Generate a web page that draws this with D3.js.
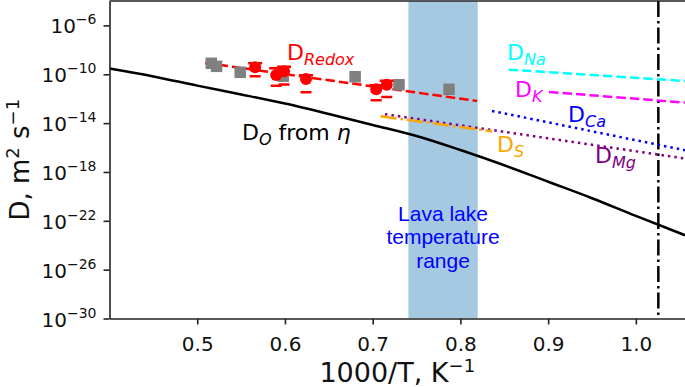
<!DOCTYPE html>
<html>
<head>
<meta charset="utf-8">
<script src="https://cdn.jsdelivr.net/npm/d3@7"></script>
<style>
  body { margin: 0; background: #fff; }
  svg { display: block; font-family: "DejaVu Sans", sans-serif; }
</style>
</head>
<body>
<div id="chart"></div>
<script>

// data (D values stored as log10 exponents)

const xTicks = [0.5, 0.6, 0.7, 0.8, 0.9, 1.0];
const yTickExps = [-6, -10, -14, -18, -22, -26, -30];

// D_O from viscosity
const etaX = [0.40, 0.45, 0.50, 0.55, 0.60, 0.65, 0.70, 0.75, 0.80, 0.85, 0.90, 0.95, 1.00, 1.056];
const etaLogD = [-9.53, -10.18, -10.93, -11.65, -12.40, -13.25, -14.15, -15.05, -16.20, -17.45, -18.80, -20.15, -21.60, -23.18];

// D_Redox fit
const redoxX = [0.509, 0.819];
const redoxLogD = [-9.07, -12.19];

// gray squares
const grayX = [0.516, 0.522, 0.549, 0.598, 0.680, 0.730, 0.787];
const grayLogD = [-9.10, -9.35, -9.84, -10.16, -10.20, -10.86, -11.23];

// red points with error caps
const redX = [0.566, 0.590, 0.599, 0.624, 0.704, 0.716];
const redLogD = [-9.43, -10.06, -9.75, -10.38, -11.23, -10.86];
const redLow = [-10.16, -10.93, -10.84, -11.47, -12.13, -11.86];
const redHigh = [-9.10, -9.51, -9.39, -10.08, -10.90, -10.53];

// other species
const naX = [0.855, 1.056], naLogD = [-9.62, -10.55];
const kX = [0.901, 1.056], kLogD = [-11.45, -12.32];
const caX = [0.836, 1.056], caLogD = [-13.00, -16.22];
const mgX = [0.714, 1.056], mgLogD = [-13.27, -16.90];
const sX = [0.709, 0.836], sLogD = [-13.44, -14.67];

// lava lake band and vertical marker
const bandX = [0.7407, 0.8197];
const markerX = 1.0256;

// constants

const width = 685;
const height = 387;
const margin = {top: 1, bottom: 318.5, left: 109.5, right: 685};

const svg = d3.select("#chart")
  .append("svg")
  .attr("width", width)
  .attr("height", height);

// scales

const xScale = d3.scaleLinear()
  .domain([0.4, 1.056])
  .range([margin.left, margin.right]);

const yScale = d3.scaleLog()
  .domain([1e-30, 1e-4])
  .range([margin.bottom, margin.top]);

const pow = e => Math.pow(10, e);

svg.append("clipPath")
  .attr("id", "clip")
  .append("rect")
  .attr("x", margin.left)
  .attr("y", margin.top)
  .attr("width", margin.right - margin.left)
  .attr("height", margin.bottom - margin.top);

const plot = svg.append("g").attr("clip-path", "url(#clip)");

// band
plot.append("rect")
  .attr("x", xScale(bandX[0]))
  .attr("y", margin.top)
  .attr("width", xScale(bandX[1]) - xScale(bandX[0]))
  .attr("height", margin.bottom - margin.top)
  .attr("fill", "#a5c9e1");

const lineGen = d3.line()
  .x(d => xScale(d[0]))
  .y(d => yScale(pow(d[1])));

const zipped = (xs, ys) => xs.map((x, i) => [x, ys[i]]);

// vertical dash-dot line
plot.append("line")
  .attr("x1", xScale(markerX)).attr("x2", xScale(markerX))
  .attr("y1", margin.top).attr("y2", margin.bottom)
  .attr("stroke", "black")
  .attr("stroke-width", 2.5)
  .attr("stroke-dasharray", "16,4,2.5,4");

// D_O from eta
plot.append("path")
  .datum(zipped(etaX, etaLogD))
  .attr("fill", "none")
  .attr("stroke", "black")
  .attr("stroke-width", 2.5)
  .attr("d", lineGen.curve(d3.curveMonotoneX));

lineGen.curve(d3.curveLinear);

const species = [
  {x: naX, y: naLogD, color: "#00ffff", dash: "9.5,4"},
  {x: kX, y: kLogD, color: "#ff00ff", dash: "9.5,4"},
  {x: caX, y: caLogD, color: "#0000ff", dash: "2.5,4"},
  {x: mgX, y: mgLogD, color: "#800080", dash: "2.5,4"},
  {x: sX, y: sLogD, color: "#ffa500", dash: "16,4,2.5,4"}
];

plot.selectAll(".species")
  .data(species)
  .join("path")
  .attr("class", "species")
  .attr("fill", "none")
  .attr("stroke", d => d.color)
  .attr("stroke-width", 2.5)
  .attr("stroke-dasharray", d => d.dash)
  .attr("d", d => lineGen(zipped(d.x, d.y)));

// redox fit
plot.append("path")
  .datum(zipped(redoxX, redoxLogD))
  .attr("fill", "none")
  .attr("stroke", "red")
  .attr("stroke-width", 2.5)
  .attr("stroke-dasharray", "9.5,4")
  .attr("d", lineGen);

// gray squares
const sq = 11.5;
plot.selectAll(".sq")
  .data(zipped(grayX, grayLogD))
  .join("rect")
  .attr("class", "sq")
  .attr("x", d => xScale(d[0]) - sq / 2)
  .attr("y", d => yScale(pow(d[1])) - sq / 2)
  .attr("width", sq)
  .attr("height", sq)
  .attr("fill", "#808080");

// red points + caps (stems hidden, as in the original)
const redData = redX.map((x, i) => ({x, y: redLogD[i], lo: redLow[i], hi: redHigh[i]}));

const eb = plot.selectAll(".eb")
  .data(redData)
  .join("g")
  .attr("class", "eb")
  .attr("stroke", "red")
  .attr("stroke-width", 2.5);

eb.append("line")
  .attr("x1", d => xScale(d.x) - 5.5).attr("x2", d => xScale(d.x) + 5.5)
  .attr("y1", d => yScale(pow(d.lo))).attr("y2", d => yScale(pow(d.lo)));
eb.append("line")
  .attr("x1", d => xScale(d.x) - 7).attr("x2", d => xScale(d.x) + 7)
  .attr("y1", d => yScale(pow(d.hi))).attr("y2", d => yScale(pow(d.hi)));
eb.append("circle")
  .attr("cx", d => xScale(d.x))
  .attr("cy", d => yScale(pow(d.y)))
  .attr("r", 6)
  .attr("fill", "red")
  .attr("stroke", "none");

// axes

const xAxis = d3.axisBottom(xScale)
  .tickValues(xTicks)
  .tickFormat(d3.format(".1f"))
  .tickSize(6)
  .tickSizeOuter(0);

const yAxis = d3.axisLeft(yScale)
  .tickValues(yTickExps.map(pow))
  .tickFormat("")
  .tickSize(6)
  .tickSizeOuter(0);

const xAxisGroup = svg.append("g")
  .attr("transform", `translate(0, ${margin.bottom})`)
  .call(xAxis);

xAxisGroup.selectAll("text")
  .attr("font-size", 20)
  .attr("font-family", "DejaVu Sans")
  .attr("fill", "#111")
  .attr("dy", null)
  .attr("y", 32);

const yAxisGroup = svg.append("g")
  .attr("transform", `translate(${margin.left}, 0)`)
  .call(yAxis);

yAxisGroup.selectAll(".tick").each(function(d) {
  const t = d3.select(this).select("text")
    .attr("x", -13)
    .attr("dy", null)
    .attr("y", 7.5)
    .attr("font-family", "DejaVu Sans")
    .attr("fill", "#111")
    .attr("text-anchor", "end");
  t.append("tspan").attr("font-size", 20).text("10");
  t.append("tspan").attr("font-size", 14).attr("dy", -9)
    .text("\u2212" + Math.abs(Math.round(Math.log10(d))));
});

[xAxisGroup, yAxisGroup].forEach(g => {
  g.selectAll(".domain").attr("stroke", "#222").attr("stroke-width", 1.6);
  g.selectAll(".tick line").attr("stroke", "#222").attr("stroke-width", 1.6);
});

// top spine
svg.append("line")
  .attr("x1", margin.left).attr("x2", margin.right)
  .attr("y1", margin.top).attr("y2", margin.top)
  .attr("stroke", "#222")
  .attr("stroke-width", 1.6);

// axis labels
const xLabel = svg.append("text")
  .attr("x", (margin.left + margin.right) / 2)
  .attr("y", 382)
  .attr("text-anchor", "middle")
  .attr("fill", "#111");
xLabel.append("tspan").attr("font-size", 27).text("1000/T, K");
xLabel.append("tspan").attr("font-size", 18).attr("dy", -10).text("\u22121");

const yLabel = svg.append("text")
  .attr("transform", `translate(29, ${(margin.top + margin.bottom) / 2}) rotate(-90)`)
  .attr("text-anchor", "middle")
  .attr("fill", "#111");
yLabel.append("tspan").attr("font-size", 26).text("D, m");
yLabel.append("tspan").attr("font-size", 18).attr("dy", -10).text("2");
yLabel.append("tspan").attr("font-size", 26).attr("dy", 10).text(" s");
yLabel.append("tspan").attr("font-size", 18).attr("dy", -10).text("\u22121");

// curve labels
const labels = [
  {x: 287, y: 60, sub: "Redox", color: "red"},
  {x: 507, y: 60, sub: "Na", color: "#00ffff"},
  {x: 515, y: 96.5, sub: "K", color: "#ff00ff"},
  {x: 568, y: 121.5, sub: "Ca", color: "#0000ff"},
  {x: 497, y: 151.5, sub: "S", color: "#ffa500"},
  {x: 595, y: 163, sub: "Mg", color: "#800080"}
];

labels.forEach(l => {
  const t = svg.append("text")
    .attr("x", l.x)
    .attr("y", l.y)
    .attr("fill", l.color);
  t.append("tspan").attr("font-size", 22).text("D");
  t.append("tspan").attr("font-size", 16).attr("font-style", "italic").attr("dy", 5).text(l.sub);
});

const etaLabel = svg.append("text")
  .attr("x", 242)
  .attr("y", 140)
  .attr("fill", "black");
etaLabel.append("tspan").attr("font-size", 22).text("D");
etaLabel.append("tspan").attr("font-size", 16).attr("font-style", "italic").attr("dy", 5).text("O");
etaLabel.append("tspan").attr("font-size", 22).attr("dy", -5).text(" from ");
etaLabel.append("tspan").attr("font-size", 22).attr("font-style", "italic").text("\u03b7");

// band label
const bandLabel = svg.append("text")
  .attr("text-anchor", "middle")
  .attr("font-family", "Liberation Sans, Arial, sans-serif")
  .attr("font-size", 21)
  .attr("fill", "#0000ff");
["Lava lake", "temperature", "range"].forEach((s, i) => {
  bandLabel.append("tspan")
    .attr("x", (xScale(bandX[0]) + xScale(bandX[1])) / 2)
    .attr("y", 220.5 + i * 23.5)
    .text(s);
});

</script>
</body>
</html>
